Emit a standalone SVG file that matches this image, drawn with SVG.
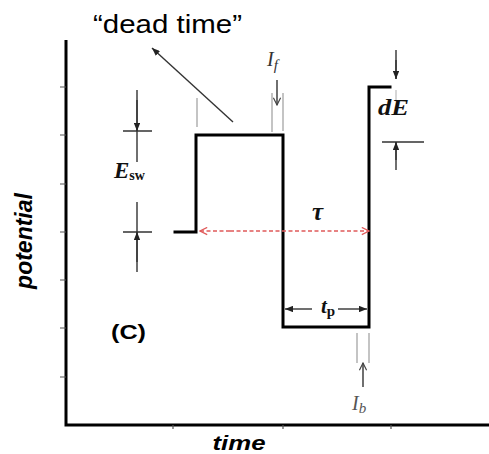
<svg xmlns="http://www.w3.org/2000/svg" width="489" height="454" viewBox="0 0 489 454">
<defs>
<style>
.axis{stroke:#000;stroke-width:3;fill:none}
.tick{stroke:#555;stroke-width:1.2}
.wave{stroke:#000;stroke-width:3;fill:none;stroke-linejoin:miter;stroke-linecap:square}
.dim{stroke:#333;stroke-width:1.4;fill:none}
.guide{stroke:#c4c4c4;stroke-width:2;fill:none}
.red{stroke:#e05a5a;stroke-width:1.4;stroke-dasharray:4 2.5;fill:none}
.sans{font-family:"Liberation Sans",Arial,sans-serif}
.serif{font-family:"Liberation Serif","Times New Roman",serif}
</style>
<marker id="fa" viewBox="0 0 10 8" refX="10" refY="4" markerWidth="8" markerHeight="6.4" markerUnits="userSpaceOnUse" orient="auto">
<path d="M0,0 L10,4 L0,8 z" fill="#222"/>
</marker>
<marker id="oa" viewBox="0 0 10 10" refX="9" refY="5" markerWidth="9" markerHeight="9" markerUnits="userSpaceOnUse" orient="auto">
<path d="M1,1 L9,5 L1,9" fill="none" stroke="#444" stroke-width="1.3"/>
</marker>
<marker id="ra" viewBox="0 0 10 10" refX="9" refY="5" markerWidth="9" markerHeight="9" markerUnits="userSpaceOnUse" orient="auto">
<path d="M1,1 L9,5 L1,9" fill="none" stroke="#e05a5a" stroke-width="1.4"/>
</marker>
</defs>
<rect width="489" height="454" fill="#fff"/>
<g id="axes">
<path class="axis" d="M66,40 V426 M64.5,425 H489"/>
<path class="tick" d="M60,87 H66 M60,135 H66 M60,184 H66 M60,232 H66 M60,280 H66 M60,328 H66 M60,377 H66 M173,425 V429 M283,425 V429 M391,425 V429"/>
<text class="sans" font-weight="bold" font-style="italic" font-size="23" transform="translate(32,241) rotate(-90)" text-anchor="middle">potential</text>
<text class="sans" font-weight="bold" font-style="italic" font-size="21" x="239" y="450" text-anchor="middle" textLength="53" lengthAdjust="spacingAndGlyphs">time</text>
</g>
<g id="labels">
<text class="sans" font-size="26" x="93" y="33" textLength="149" lengthAdjust="spacingAndGlyphs">“dead time”</text>
<text class="sans" font-weight="bold" font-size="21" x="111" y="339" textLength="35" lengthAdjust="spacingAndGlyphs">(C)</text>
</g>
<g id="guides">
<path class="guide" d="M197,98 V127 M272,93 V132 M283,93 V131 M357,333 V363 M369,333 V363"/>
<path d="M396,90 V100" stroke="#bbb" stroke-width="1.2"/>
</g>
<g id="waveform">
<path class="wave" d="M175,232 H196 V135 H283 V327 H369 V87 H390"/>
</g>
<g id="connectors">
<line class="dim" x1="233" y1="122" x2="152" y2="48" marker-end="url(#fa)"/>
<path class="dim" d="M137,90 V162 M123,131 H152 M123,232 H152 M137,272 V202 M396,50 V79 M382,142 H424 M396,170 V142"/>
<line class="dim" x1="137" y1="100" x2="137" y2="131" marker-end="url(#fa)"/>
<line class="dim" x1="137" y1="262" x2="137" y2="232" marker-end="url(#fa)"/>
<line class="dim" x1="396" y1="60" x2="396" y2="79" marker-end="url(#fa)"/>
<line class="dim" x1="396" y1="160" x2="396" y2="142" marker-end="url(#fa)"/>
<line class="dim" x1="312" y1="309" x2="285" y2="309" marker-end="url(#fa)"/>
<line class="dim" x1="338" y1="309" x2="367" y2="309" marker-end="url(#fa)"/>
<line class="dim" x1="277" y1="80" x2="277" y2="105" marker-end="url(#oa)"/>
<line class="dim" x1="363" y1="387" x2="363" y2="363" marker-end="url(#oa)"/>
<line class="red" x1="230" y1="231" x2="200" y2="231" marker-end="url(#ra)"/>
<line class="red" x1="230" y1="231" x2="369" y2="231" marker-end="url(#ra)"/>
</g>
<g id="symbols">
<text class="serif" font-weight="bold" font-style="italic" font-size="23" x="114" y="178" fill="#111">E<tspan font-size="14" font-style="normal" dy="2">sw</tspan></text>
<text class="serif" font-weight="bold" font-style="italic" font-size="23" x="378" y="115" fill="#111" textLength="31" lengthAdjust="spacingAndGlyphs">dE</text>
<text class="serif" font-weight="bold" font-style="italic" font-size="25" x="312" y="220" fill="#111">τ</text>
<text class="serif" font-weight="bold" font-style="italic" font-size="21" x="321" y="313" fill="#111">t<tspan font-size="15" font-style="normal" dy="3">p</tspan></text>
<text class="serif" font-style="italic" font-size="20" x="267" y="66" fill="#333">I<tspan font-size="15" dy="4">f</tspan></text>
<text class="serif" font-style="italic" font-size="20" x="352" y="410" fill="#555">I<tspan font-size="15" dy="3">b</tspan></text>
</g>
</svg>
